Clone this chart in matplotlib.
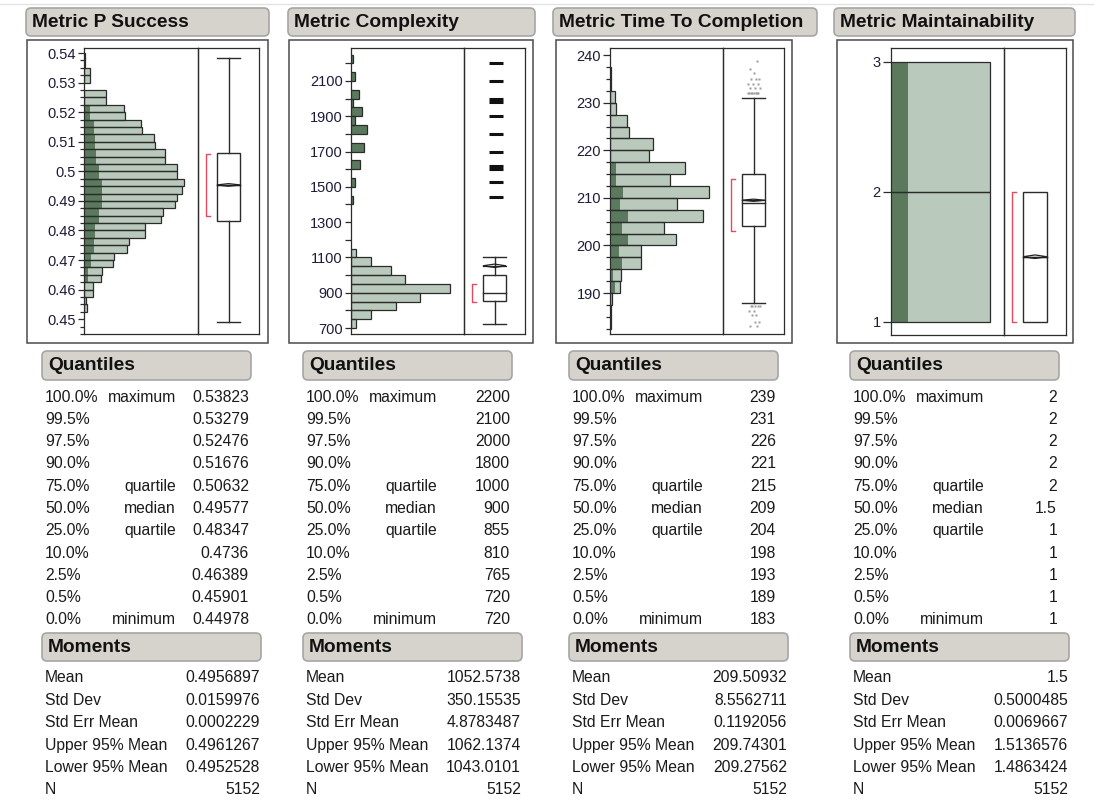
import matplotlib
matplotlib.use("Agg")
import matplotlib.pyplot as plt
from matplotlib.patches import FancyBboxPatch, Rectangle, Polygon
import numpy as np

# ---------------- DATA ----------------
titles = ["Metric P Success", "Metric Complexity", "Metric Time To Completion", "Metric Maintainability"]

# Histogram bins (lower edges), counts and highlighted (dark) counts
p1_width = 0.0025
p1_lo = [0.4525 + 0.0025 * i for i in range(35)]
p1_counts = [9, 8, 29, 29, 55, 59, 94, 97, 139, 144, 196, 196, 246, 252, 292, 297, 315, 319,
             297, 297, 258, 258, 226, 223, 187, 182, 132, 128, 72, 69, 0, 20, 20, 4, 4]
p1_dark = [2, 2, 4, 4, 14, 14, 23, 23, 31, 31, 35, 35, 48, 48, 57, 57, 57, 57,
           48, 48, 40, 40, 35, 35, 31, 31, 18, 18, 0, 0, 0, 0, 0, 0, 0]

p2_width = 50
p2_lo = [700 + 50 * i for i in range(31)]
p2_counts = [64, 239, 533, 824, 1182, 649, 478, 239, 64, 0, 0, 0, 0, 0,
             20, 0, 48, 0, 111, 0, 159, 0, 187, 48, 127, 20, 96, 0, 48, 0, 20]
p2_dark = [0, 0, 0, 0, 0, 0, 0, 0, 0, 0, 0, 0, 0, 0,
           20, 0, 48, 0, 111, 0, 159, 0, 187, 48, 127, 20, 96, 0, 48, 0, 20]

p3_width = 2.5
p3_lo = [182.5 + 2.5 * i for i in range(22)]
p3_counts = [7, 7, 16, 72, 79, 217, 217, 461, 377, 655, 468, 692, 424, 524, 275, 303, 135, 119, 44, 35, 7, 7]
p3_dark = [0, 0, 5, 34, 21, 83, 65, 127, 83, 127, 70, 94, 42, 42, 8, 8, 0, 0, 0, 0, 0, 0]

p4_width = 1
p4_lo = [1, 2]
p4_counts = [2576, 2576]
p4_dark = [442, 442]

# Quantile table
q_pct = ["100.0%", "99.5%", "97.5%", "90.0%", "75.0%", "50.0%", "25.0%", "10.0%", "2.5%", "0.5%", "0.0%"]
q_name = ["maximum", "", "", "", "quartile", "median", "quartile", "", "", "", "minimum"]
q_vals = [
    ["0.53823", "0.53279", "0.52476", "0.51676", "0.50632", "0.49577", "0.48347", "0.4736", "0.46389", "0.45901", "0.44978"],
    ["2200", "2100", "2000", "1800", "1000", "900", "855", "810", "765", "720", "720"],
    ["239", "231", "226", "221", "215", "209", "204", "198", "193", "189", "183"],
    ["2", "2", "2", "2", "2", "1.5", "1", "1", "1", "1", "1"],
]
# Moments table
m_name = ["Mean", "Std Dev", "Std Err Mean", "Upper 95% Mean", "Lower 95% Mean", "N"]
m_vals = [
    ["0.4956897", "0.0159976", "0.0002229", "0.4961267", "0.4952528", "5152"],
    ["1052.5738", "350.15535", "4.8783487", "1062.1374", "1043.0101", "5152"],
    ["209.50932", "8.5562711", "0.1192056", "209.74301", "209.27562", "5152"],
    ["1.5", "0.5000485", "0.0069667", "1.5136576", "1.4863424", "5152"],
]
# Box plot whisker ends and shortest-half brackets
whisk_lo = [0.44978, 720, 188, 1]
whisk_hi = [0.53823, 1100, 231, 2]
short_half = [(0.4854, 0.5062), (850, 950), (203, 214), (1, 2)]
p2_outliers = [1440, 1530, 1600, 1620, 1700, 1800, 1900, 1980, 2000, 2100, 2200]
p3_outliers = [232, 232, 232, 232, 232, 232, 232, 232, 233, 233, 233, 233.9, 233.9, 233.9,
               235, 235, 235, 236.3, 237, 238.8,
               187.2, 187.2, 187.2, 187.2, 187.2, 186.3, 186.3, 185.4, 185.4, 184, 184, 183, 183]

# Axis ticks
p1_major = [0.45, 0.46, 0.47, 0.48, 0.49, 0.50, 0.51, 0.52, 0.53, 0.54]
p1_labels = ["0.45", "0.46", "0.47", "0.48", "0.49", "0.5", "0.51", "0.52", "0.53", "0.54"]
p2_major = list(range(700, 2201, 100))
p2_labels = [str(v) if (v - 700) % 200 == 0 else "" for v in p2_major]
p3_major = [190, 200, 210, 220, 230, 240]
p3_labels = ["190", "200", "210", "220", "230", "240"]
p4_major = [1, 2, 3]
p4_labels = ["1", "2", "3"]

# ---------------- LAYOUT / STYLE ----------------
W, H = 1094, 802
plt.rcParams['font.family'] = ['Liberation Sans', 'DejaVu Sans']
LIGHT = '#b9c9bb'
DARK = '#5b7a5d'
EDGE = '#2b2b2b'
TXT = '#1a1a1a'

fig = plt.figure(figsize=(W / 100, H / 100), dpi=100)
bg = fig.add_axes([0, 0, 1, 1])
bg.set_xlim(0, W)
bg.set_ylim(H, 0)
bg.axis('off')
bg.plot([0, W], [4, 4], color='#e2e2e2', lw=1)


def px_axes(x0, y0, x1, y1):
    return fig.add_axes([x0 / W, 1 - y1 / H, (x1 - x0) / W, (y1 - y0) / H])


def header(x0, y0, x1, y1, text):
    bg.add_patch(FancyBboxPatch((x0, y0), x1 - x0, y1 - y0,
                                boxstyle="round,pad=0,rounding_size=5",
                                fc='#d6d3cd', ec='#a6a6a6', lw=1.2))
    bg.text(x0 + 6, (y0 + y1) / 2 + 0.5, text, fontsize=13.8, fontweight='bold',
            va='center', ha='left', color='#111111')


panels = [
    dict(title=(26, 8, 269, 36), frame=(27, 40, 268, 343), hist=(84, 48, 198, 334), box=(198, 48, 259, 334), hl=42,
         lo=p1_lo, w=p1_width, c=p1_counts, d=p1_dark, ylim=(0.4456, 0.5417),
         major=p1_major, labels=p1_labels, minor=[0.445 + 0.0025 * i for i in range(39)], tl=4.5, xfac=340 / 297),
    dict(title=(288, 8, 535, 36), frame=(289, 40, 533, 343), hist=(351, 48, 464, 334), box=(464, 48, 525, 334), hl=303,
         lo=p2_lo, w=p2_width, c=p2_counts, d=p2_dark, ylim=(666, 2287),
         major=p2_major, labels=p2_labels, minor=[], tl=4.5, xfac=340 / 297),
    dict(title=(553, 8, 817, 36), frame=(556, 40, 792, 343), hist=(610, 48, 723, 334), box=(723, 48, 784, 334), hl=569,
         lo=p3_lo, w=p3_width, c=p3_counts, d=p3_dark, ylim=(181.4, 241.5),
         major=p3_major, labels=p3_labels, minor=[182.5 + 2.5 * i for i in range(24)], tl=5, xfac=340 / 297),
    dict(title=(834, 8, 1075, 36), frame=(837, 40, 1073, 343), hist=(891, 48, 1004, 335), box=(1004, 48, 1066, 335), hl=850,
         lo=p4_lo, w=p4_width, c=p4_counts, d=p4_dark, ylim=(0.898, 3.105),
         major=p4_major, labels=p4_labels, minor=[], tl=6, xfac=341 / 298),
]

for k, P in enumerate(panels):
    header(*P['title'], titles[k])
    fx0, fy0, fx1, fy1 = P['frame']
    bg.add_patch(Rectangle((fx0, fy0), fx1 - fx0, fy1 - fy0, fill=False, ec='#4a4a4a', lw=1.1))

    # ---- histogram ----
    ax = px_axes(*P['hist'])
    lo = np.array(P['lo'], float)
    c = np.array(P['c'], float)
    d = np.array(P['d'], float)
    m = c > 0
    ax.barh(lo[m], c[m], height=P['w'], align='edge', color=LIGHT, edgecolor='none', zorder=2)
    md = d > 0
    ax.barh(lo[md], d[md], height=P['w'], align='edge', color=DARK, edgecolor='none', zorder=3)
    ax.barh(lo[m], c[m], height=P['w'], align='edge', facecolor='none', edgecolor=EDGE, lw=0.9, zorder=4)
    ax.set_xlim(0, max(c) * P['xfac'])
    ax.set_ylim(*P['ylim'])
    ax.set_xticks([])
    ax.set_yticks(P['major'])
    ax.set_yticklabels(P['labels'])
    if P['minor']:
        ax.set_yticks(P['minor'], minor=True)
    ax.tick_params(axis='y', which='major', length=P['tl'], width=0.9, labelsize=10.5, pad=1.5,
                   colors=EDGE, labelcolor='#1c1c3a')
    ax.tick_params(axis='y', which='minor', length=2.6, width=0.9, colors=EDGE)
    for s in ax.spines.values():
        s.set_color(EDGE)
        s.set_linewidth(0.9)

    # ---- box plot ----
    bx = px_axes(*P['box'])
    bx.patch.set_alpha(0)
    bx.set_ylim(*P['ylim'])
    bx.set_xlim(0, 1)
    bx.set_xticks([])
    bx.set_yticks([])
    for s in ['left', 'top', 'right', 'bottom']:
        bx.spines[s].set_color(EDGE)
        bx.spines[s].set_linewidth(0.9)
    q3 = float(q_vals[k][4]); med = float(q_vals[k][5]); q1 = float(q_vals[k][6])
    x0b, x1b, xc = 0.31, 0.69, 0.5
    bx.add_patch(Rectangle((x0b, q1), x1b - x0b, q3 - q1, fill=False, ec=EDGE, lw=1.0, zorder=3))
    bx.plot([x0b, x1b], [med, med], color=EDGE, lw=1.0, zorder=3)
    if whisk_hi[k] > q3:
        bx.plot([xc, xc], [q3, whisk_hi[k]], color=EDGE, lw=1.0)
        bx.plot([x0b, x1b], [whisk_hi[k], whisk_hi[k]], color=EDGE, lw=1.0)
    if whisk_lo[k] < q1:
        bx.plot([xc, xc], [whisk_lo[k], q1], color=EDGE, lw=1.0)
        bx.plot([x0b, x1b], [whisk_lo[k], whisk_lo[k]], color=EDGE, lw=1.0)
    mean = float(m_vals[k][0]); up = float(m_vals[k][3]); lw_ = float(m_vals[k][4])
    bx.add_patch(Polygon([(x0b, mean), (xc, up), (x1b, mean), (xc, lw_)], closed=True,
                         fill=False, ec='#222222', lw=0.9, zorder=4))
    bx.plot([x0b, x1b], [mean, mean], color='#222222', lw=0.9, zorder=4)
    # shortest half bracket
    sl, sh = short_half[k]
    bxk = 0.135
    bx.plot([bxk + 0.06, bxk, bxk, bxk + 0.06], [sh, sh, sl, sl], color='#e8485c', lw=1.0)

    # ---- tables ----
    hl = P['hl']
    header(hl, 351, hl + 209, 380, "Quantiles")
    for i in range(11):
        y = 397 + 22.3 * i
        bg.text(hl + 3, y, q_pct[i], fontsize=11.3, va='center', ha='left', color=TXT)
        if q_name[i]:
            bg.text(hl + 134, y, q_name[i], fontsize=11.3, va='center', ha='right', color=TXT)
        bg.text(hl + 207, y, q_vals[k][i], fontsize=11.3, va='center', ha='right', color=TXT)
    header(hl, 633, hl + 219, 661, "Moments")
    for i in range(6):
        y = 678 + 22.4 * i
        bg.text(hl + 3, y, m_name[i], fontsize=11.3, va='center', ha='left', color=TXT)
        bg.text(hl + 218, y, m_vals[k][i], fontsize=11.3, va='center', ha='right', color=TXT)

    if k == 1:
        bx.plot(np.full(len(p2_outliers), 0.53), p2_outliers, linestyle='none', marker='_',
                markersize=10, mew=2.2, color='#111111')
    if k == 2:
        n = len(p3_outliers)
        jit = 0.41 + 0.2 * ((np.arange(n) * 0.618) % 1.0)
        bx.plot(jit, p3_outliers, linestyle='none', marker='s', markersize=2.0,
                color='#9c9c9c', mec='none')

fig.savefig("out.png", dpi=100)
